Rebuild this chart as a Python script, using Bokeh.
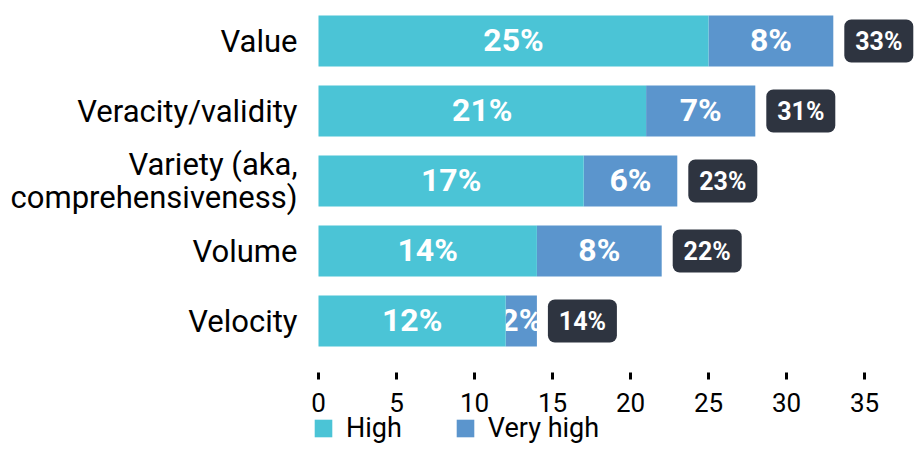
from bokeh.plotting import figure
from bokeh.models import ColumnDataSource, FixedTicker, Range1d, Legend, LegendItem
from bokeh.core.properties import value
from bokeh.embed import file_html
from bokeh.resources import INLINE

categories = ["Value", "Veracity/validity", "Variety (aka,\ncomprehensiveness)", "Volume", "Velocity"]
high = [25, 21, 17, 14, 12]
very_high = [8, 7, 6, 8, 2]
total_labels = ["33%", "31%", "23%", "22%", "14%"]
x_ticks = [0, 5, 10, 15, 20, 25, 30, 35]
series_names = ["High", "Very high"]

C_HIGH = "#4bc4d6"
C_VH = "#5b95cd"
C_BOX = "#2e3440"
FONT = value("Roboto")

W, H = 914, 443
PX = 15.6          # pixels per x unit
X0 = 318           # canvas pixel of x = 0
ROW = 70           # pixels per row
Y0 = 320.5         # canvas pixel of bottom row centre
AXIS_Y = 372       # canvas pixel of the x axis line
BOX_GAP, BOX_W = 11, 69

n = len(categories)
ys = [n - 1 - i for i in range(n)]
totals = [h + v for h, v in zip(high, very_high)]

src = ColumnDataSource(dict(
    y=ys,
    high=high,
    vh=very_high,
    total=totals,
    high_mid=[h / 2 for h in high],
    vh_mid=[h + v / 2 for h, v in zip(high, very_high)],
    high_lbl=[f"{h}%" for h in high],
    vh_lbl=[f"{v}%" for v in very_high],
    box_l=[t + BOX_GAP / PX for t in totals],
    box_r=[t + (BOX_GAP + BOX_W) / PX for t in totals],
    box_mid=[t + (BOX_GAP + BOX_W / 2) / PX for t in totals],
    tot_lbl=total_labels,
))

x_start = -X0 / PX
p = figure(width=W, height=H, output_backend="svg", toolbar_location=None,
           x_range=Range1d(x_start, x_start + W / PX),
           y_range=Range1d((Y0 - H) / ROW, Y0 / ROW),
           min_border=0)
p.outline_line_color = None
p.grid.visible = False
p.background_fill_color = "white"

bar_h = 51 / ROW
r_vh = p.hbar(y="y", left="high", right="total", height=bar_h, source=src,
              fill_color=C_VH, line_color=None)
p.text(x="vh_mid", y="y", text="vh_lbl", source=src, text_align="center",
       text_baseline="middle", text_font=FONT, text_font_style="bold",
       text_font_size="32px", text_color="white", y_offset=-1)
r_high = p.hbar(y="y", left=0, right="high", height=bar_h, source=src,
                fill_color=C_HIGH, line_color=None)
p.text(x="high_mid", y="y", text="high_lbl", source=src, text_align="center",
       text_baseline="middle", text_font=FONT, text_font_style="bold",
       text_font_size="32px", text_color="white", y_offset=-1)

p.hbar(y="y", left="box_l", right="box_r", height=43 / ROW, source=src,
       fill_color=C_BOX, line_color=None, border_radius=7)
p.text(x="box_mid", y="y", text="tot_lbl", source=src, text_align="center",
       text_baseline="middle", text_font=FONT, text_font_style="bold",
       text_font_size="25px", text_color="white")

# x axis
xa = p.xaxis[0]
xa.fixed_location = (Y0 - AXIS_Y) / ROW
xa.ticker = FixedTicker(ticks=x_ticks)
xa.axis_line_color = None
xa.major_tick_out = 7
xa.major_tick_in = 0
xa.major_tick_line_width = 3
xa.major_tick_line_color = "black"
xa.minor_tick_line_color = None
xa.major_label_text_font = "Roboto"
xa.major_label_text_font_size = "26px"
xa.major_label_text_color = "black"
xa.major_label_standoff = 13

# y axis
ya = p.yaxis[0]
ya.fixed_location = 0
ya.ticker = FixedTicker(ticks=ys)
ya.major_label_overrides = {y: c for y, c in zip(ys, categories)}
ya.axis_line_color = None
ya.major_tick_line_color = None
ya.major_tick_out = 0
ya.major_tick_in = 0
ya.minor_tick_line_color = None
ya.major_label_text_font = "Roboto"
ya.major_label_text_font_size = "31px"
ya.major_label_text_color = "black"
ya.major_label_text_line_height = 0.88
ya.major_label_standoff = 21

legend = Legend(items=[LegendItem(label=series_names[0], renderers=[r_high]),
                       LegendItem(label=series_names[1], renderers=[r_vh])],
                orientation="horizontal", location=(312, -1),
                glyph_width=22, glyph_height=22, label_standoff=12, spacing=52,
                padding=0, margin=0, border_line_color=None,
                background_fill_alpha=0,
                label_text_font="Roboto", label_text_font_size="27px",
                label_text_color="black")
p.add_layout(legend)

open("out.html", "w").write(file_html(p, INLINE))
